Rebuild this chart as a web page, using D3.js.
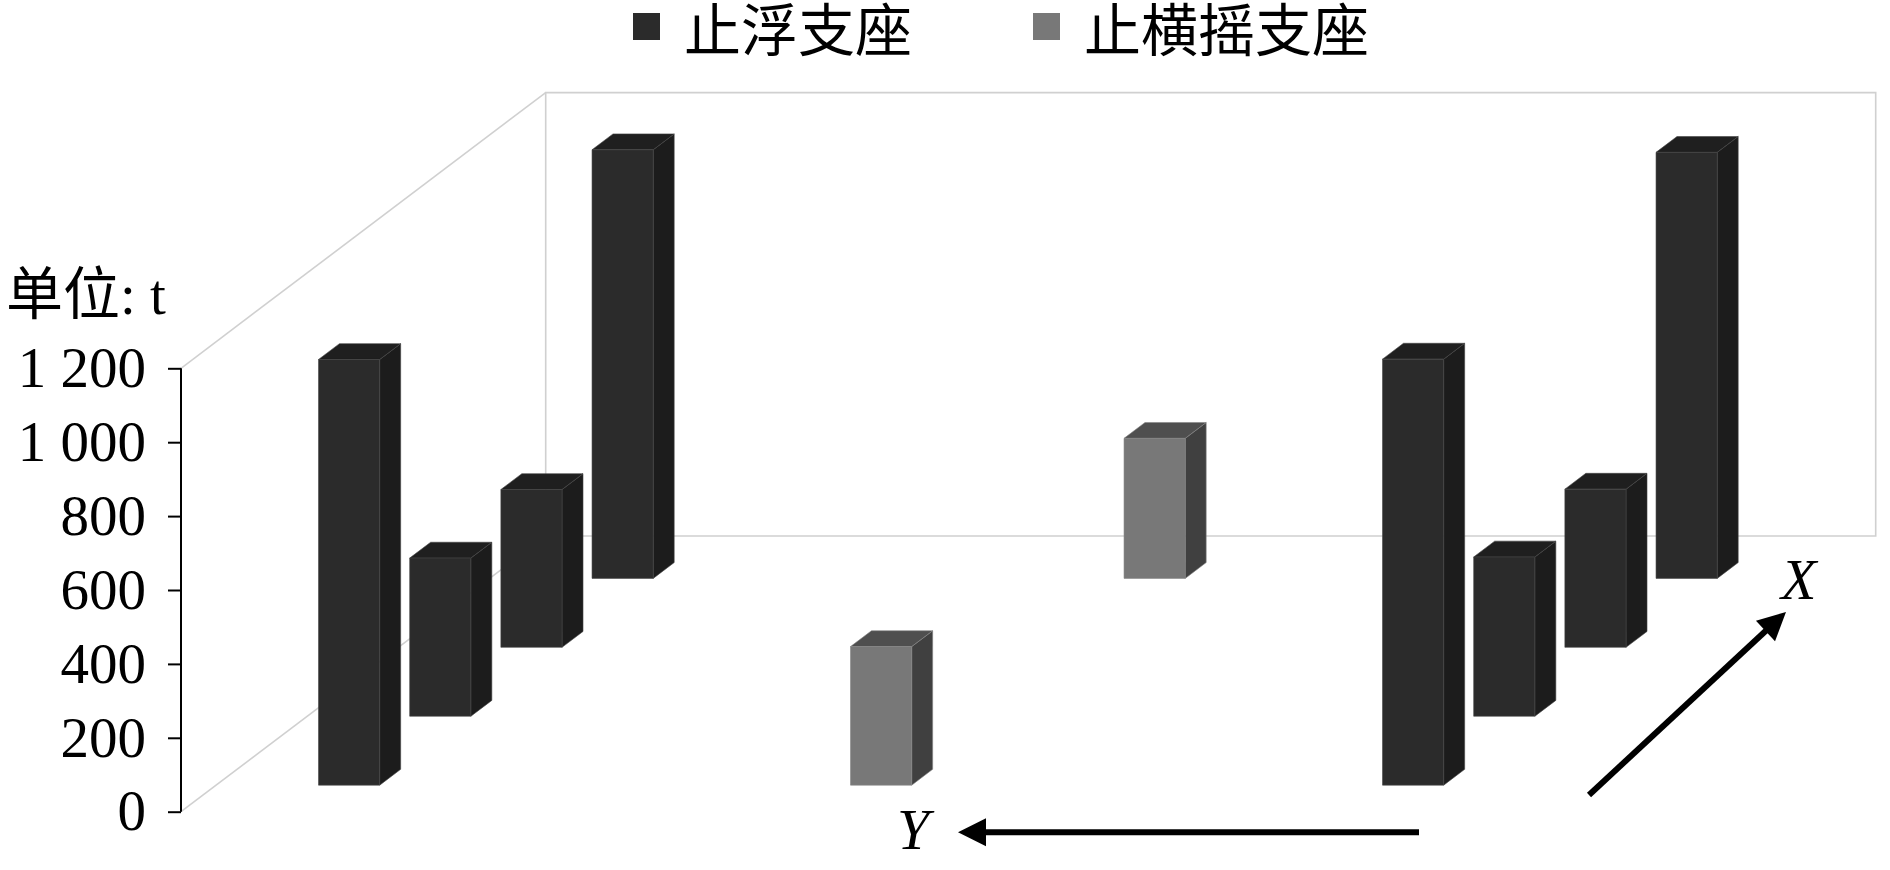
<!DOCTYPE html>
<html lang="zh">
<head>
<meta charset="UTF-8">
<title>支座反力</title>
<script src="https://d3js.org/d3.v7.min.js"></script>
<style>
  body { margin: 0; background: #fff; }
  svg { display: block; }
  text { font-family: "Liberation Serif", "Noto Sans CJK SC", serif; fill: #000; }
</style>
</head>
<body>
<script>
// positions across the Y direction (5 slots) and rows along the X direction (4 rows)
const categories = [0, 1, 2, 3, 4];
const rows = [0, 1, 2, 3];
const seriesNames = ["止浮支座", "止横摇支座"];

// 止浮支座, slot 0 and slot 4, rows 0..3 (t)
const floatLeft = [1152, 428, 427, 1160];
const floatRight = [1153, 431, 428, 1153];
// 止横摇支座, slot 2, rows 0 and 3
const swayMid = [375, null, null, 379];

const tickValues = [0, 200, 400, 600, 800, 1000, 1200];
const unitLabel = "单位: t";

const width = 1890, height = 870;
const left = 181, right = 1511, yBottom = 811.7, yTop = 368.3;
const depthLen = 364.7, slope = 275.7 / 364.7;
const gap = 0.77;

const colors = {
  "止浮支座": { front: "#2b2b2b", side: "#1c1c1c", top: "#1f1f1f", edge: "#444" },
  "止横摇支座": { front: "#787878", side: "#404040", top: "#4f4f4f", edge: "#858585" }
};

// build bar list
const bars = [];
rows.forEach(r => {
  if (floatLeft[r] != null) bars.push({ cat: 0, row: r, value: floatLeft[r], series: seriesNames[0] });
  if (swayMid[r] != null) bars.push({ cat: 2, row: r, value: swayMid[r], series: seriesNames[1] });
  if (floatRight[r] != null) bars.push({ cat: 4, row: r, value: floatRight[r], series: seriesNames[0] });
});
// back rows first so the front ones cover them
bars.sort((a, b) => (b.row - a.row) || (a.cat - b.cat));

const svg = d3.select("body").append("svg")
  .attr("width", width)
  .attr("height", height);

svg.append("rect").attr("width", width).attr("height", height).attr("fill", "#fff");

const x = d3.scaleBand().domain(categories).range([left, right])
  .paddingInner(gap).paddingOuter(gap / 2);
const z = d3.scaleBand().domain(rows).range([0, depthLen])
  .paddingInner(gap).paddingOuter(gap / 2);
const y = d3.scaleLinear().domain([0, 1200]).range([yBottom, yTop]);

// oblique projection: depth goes up and to the right
const P = (px, py, pz) => [px + pz, py - pz * slope];
const poly = pts => "M" + pts.map(p => p.join(",")).join("L") + "Z";

// walls
const wall = svg.append("g").attr("fill", "none").attr("stroke", "#d0d0d0").attr("stroke-width", 1.6);
const bl = P(left, y(0), depthLen), tl = P(left, y(1200), depthLen);
const br = P(right, y(0), depthLen), tr = P(right, y(1200), depthLen);
wall.append("path").attr("d", poly([bl, tl, tr, br]));
wall.append("line").attr("x1", left).attr("y1", y(0)).attr("x2", bl[0]).attr("y2", bl[1]);
wall.append("line").attr("x1", left).attr("y1", y(1200)).attr("x2", tl[0]).attr("y2", tl[1]);

// bars
const w = x.bandwidth(), d = z.bandwidth();
const g = svg.append("g");
bars.forEach(b => {
  const x0 = x(b.cat), z0 = z(b.row), y0 = y(0), y1 = y(b.value);
  const c = colors[b.series];
  const bg = g.append("g").attr("stroke", c.edge).attr("stroke-width", 0.6).attr("stroke-linejoin", "round");
  bg.append("path").attr("fill", c.side)
    .attr("d", poly([P(x0 + w, y1, z0), P(x0 + w, y1, z0 + d), P(x0 + w, y0, z0 + d), P(x0 + w, y0, z0)]));
  bg.append("path").attr("fill", c.top)
    .attr("d", poly([P(x0, y1, z0), P(x0 + w, y1, z0), P(x0 + w, y1, z0 + d), P(x0, y1, z0 + d)]));
  bg.append("path").attr("fill", c.front)
    .attr("d", poly([P(x0, y1, z0), P(x0 + w, y1, z0), P(x0 + w, y0, z0), P(x0, y0, z0)]));
});

// value axis
const axis = svg.append("g")
  .attr("transform", `translate(${left},0)`)
  .call(d3.axisLeft(y).tickValues(tickValues).tickSize(13).tickPadding(22)
    .tickFormat(v => v >= 1000 ? Math.floor(v / 1000) + " " + d3.format("03d")(v % 1000) : String(v)));
axis.select(".domain").attr("stroke", "#000").attr("stroke-width", 2).attr("d", `M0,${y(1200)}V${y(0)}`);
axis.selectAll(".tick line").attr("stroke", "#000").attr("stroke-width", 2);
axis.selectAll(".tick text").attr("font-size", 57).attr("font-family", "Liberation Serif").attr("fill", "#000");

svg.append("text").attr("x", 6).attr("y", 314).attr("font-size", 57).text(unitLabel);

// legend
const legend = svg.append("g");
const legendX = [633, 1033];
seriesNames.forEach((name, i) => {
  legend.append("rect").attr("x", legendX[i]).attr("y", 13).attr("width", 27).attr("height", 27)
    .attr("fill", colors[name].front);
  legend.append("text").attr("x", legendX[i] + 51).attr("y", 51).attr("font-size", 57).text(name);
});

// direction arrows
function arrow(x1, y1, x2, y2) {
  const a = Math.atan2(y2 - y1, x2 - x1), L = 28, H = 14;
  const bx = x2 - L * Math.cos(a), by = y2 - L * Math.sin(a);
  svg.append("line").attr("x1", x1).attr("y1", y1).attr("x2", bx + 2 * Math.cos(a)).attr("y2", by + 2 * Math.sin(a))
    .attr("stroke", "#000").attr("stroke-width", 6);
  svg.append("path").attr("fill", "#000")
    .attr("d", poly([[x2, y2], [bx - H * Math.sin(a), by + H * Math.cos(a)], [bx + H * Math.sin(a), by - H * Math.cos(a)]]));
}
arrow(1419, 832.3, 958, 832.3);
arrow(1589, 795, 1786, 612);
svg.append("text").attr("x", 897).attr("y", 849).attr("font-size", 58).attr("font-style", "italic").text("Y");
svg.append("text").attr("x", 1781).attr("y", 599).attr("font-size", 58).attr("font-style", "italic").text("X");
</script>
</body>
</html>
